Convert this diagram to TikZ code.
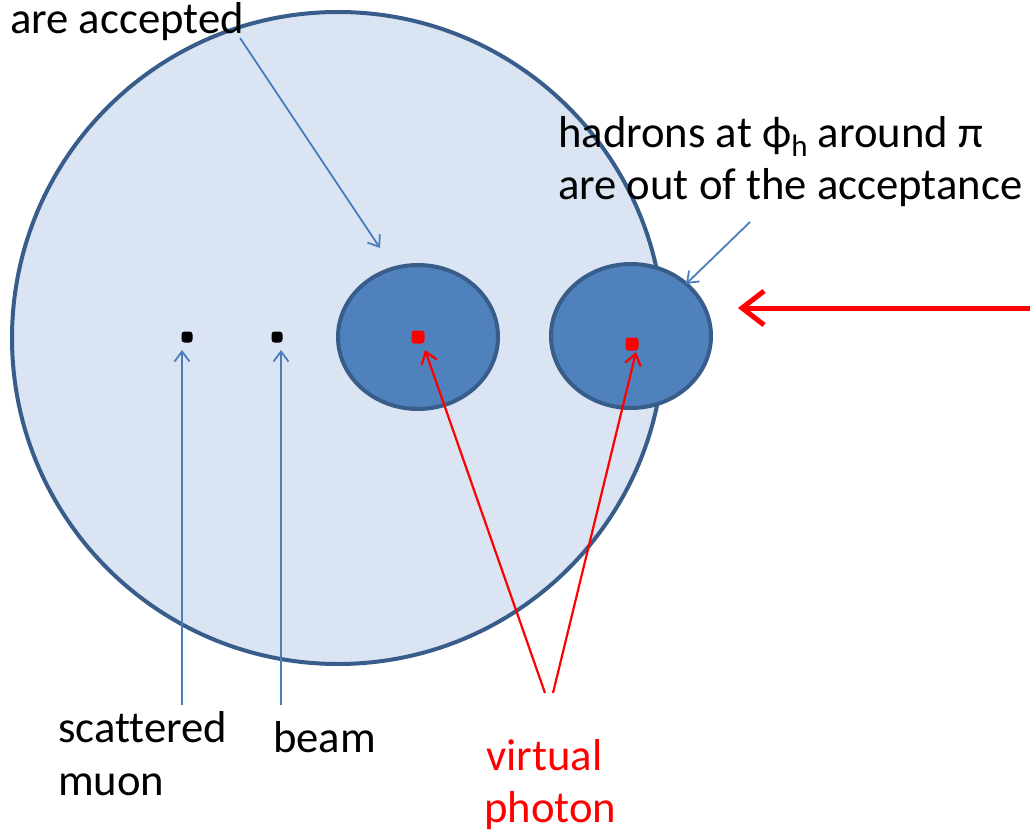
\documentclass[tikz,border=0pt]{standalone}
\usepackage{fontspec}
\setmainfont[Ligatures=NoCommon]{Carlito}
\usetikzlibrary{shapes.geometric,arrows.meta}
\definecolor{bgblue}{RGB}{218,228,242}
\definecolor{edgeblue}{RGB}{56,93,138}
\definecolor{fillblue}{RGB}{79,129,189}
\definecolor{arrowblue}{RGB}{74,126,187}
\definecolor{pred}{RGB}{255,0,0}
\tikzset{
  lbl/.style={font=\fontsize{44.7}{53}\selectfont, inner sep=0pt, anchor=base west},
  bigdisc/.style={circle, draw=edgeblue, fill=bgblue, line width=4pt, minimum size=652pt, inner sep=0pt},
  hadron/.style={ellipse, draw=edgeblue, fill=fillblue, line width=4pt, minimum width=160pt, minimum height=144pt, inner sep=0pt},
  bdot/.style={rectangle, rounded corners=3pt, fill=black, minimum size=11pt, inner sep=0pt},
  rdot/.style={rectangle, rounded corners=3pt, fill=pred, minimum size=13pt, inner sep=0pt},
  bluearrow/.style={draw=arrowblue, line width=1.8pt, -{Straight Barb[length=10pt, width=15pt, line width=1.8pt]}},
  redarrow/.style={draw=pred, line width=2.2pt, -{Straight Barb[length=11pt, width=16pt, line width=2.2pt]}},
  bigredarrow/.style={draw=pred, line width=5pt, -{Straight Barb[length=22pt, width=34pt, line width=5pt]}}
}
\begin{document}
\begin{tikzpicture}[x=1pt, y=-1pt]
\useasboundingbox (0,0) rectangle (1030,832);
% big acceptance disc
\node[bigdisc] (disc) at (338,338) {};
% hadron regions
\node[hadron] (hin) at (418,337) {};
\node[hadron] (hout) at (631,336) {};
% dots
\node[bdot] (mu) at (187,337) {};
\node[bdot] (beam) at (277,337) {};
\node[rdot] (g1) at (418,337) {};
\node[rdot] (g2) at (632,344) {};
% labels
\node[lbl] (acc) at (10,34) {are accepted};
\node[lbl] (had1) at (558,147) {hadrons at \char"03D5\raisebox{-0.22em}{\fontsize{31}{31}\selectfont h} around \char"03C0};
\node[lbl] (had2) at (558,199) {are out of the acceptance};
\node[lbl] (scat1) at (58,742) {scattered};
\node[lbl] (scat2) at (58,795) {muon};
\node[lbl] (bm) at (273,752) {beam};
\node[lbl, text=pred] (vp1) at (486,770) {virtual};
\node[lbl, text=pred] (vp2) at (484,822) {photon};
% connector endpoints
\coordinate (accS) at (240,38);
\coordinate (accE) at (380,248);
\coordinate (outS) at (750,222);
\coordinate (outE) at (686,284);
\coordinate (muS) at (182,705);
\coordinate (muE) at (182,350);
\coordinate (bmS) at (281,705);
\coordinate (bmE) at (281,350);
\coordinate (vpL) at (545,693);
\coordinate (vpR) at (553,693);
\coordinate (g1E) at (425,350);
\coordinate (g2E) at (636,352);
\coordinate (qS) at (1030,308);
\coordinate (qE) at (738,308);
% arrows
\draw[bluearrow] (accS) -- (accE);
\draw[bluearrow] (outS) -- (outE);
\draw[bluearrow] (muS) -- (muE);
\draw[bluearrow] (bmS) -- (bmE);
\draw[redarrow] (vpL) -- (g1E);
\draw[redarrow] (vpR) -- (g2E);
\draw[bigredarrow] (qS) -- (qE);
\end{tikzpicture}
\end{document}
